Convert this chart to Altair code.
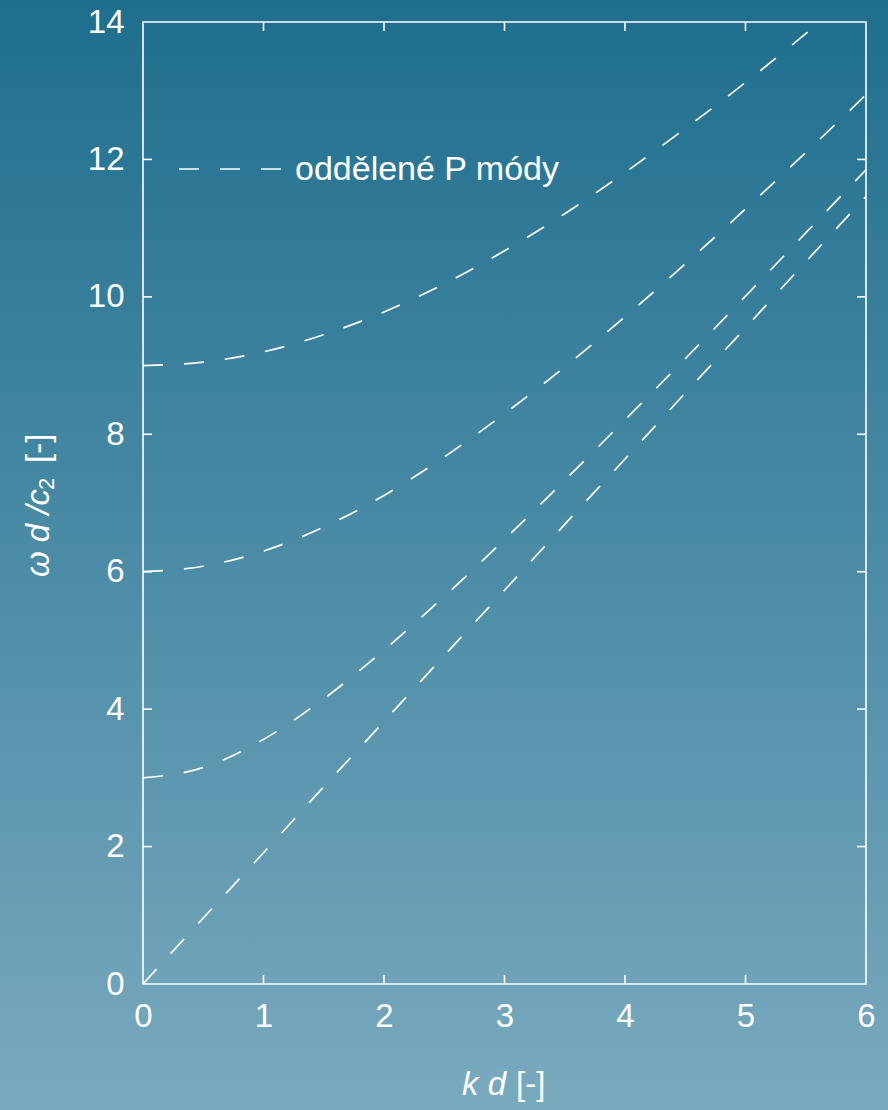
import altair as alt
import pandas as pd

# Dispersion branches: angular frequency (omega d / c2) against wavenumber (k d)
kd = [0.0, 0.5, 1.0, 1.5, 2.0, 2.5, 3.0, 3.5, 4.0, 4.5, 5.0, 5.5, 6.0]
mode_0 = [0.0, 0.96, 1.91, 2.87, 3.82, 4.78, 5.73, 6.69, 7.64, 8.60, 9.55, 10.51, 11.46]
mode_1 = [3.0, 3.15, 3.56, 4.15, 4.86, 5.64, 6.47, 7.33, 8.21, 9.10, 10.01, 10.93, 11.85]
mode_2 = [6.0, 6.08, 6.30, 6.65, 7.11, 7.67, 8.30, 8.98, 9.71, 10.48, 11.28, 12.10, 12.94]
mode_3 = [9.0, 9.05, 9.20, 9.45, 9.78, 10.19, 10.67, 11.21, 11.81, 12.45, 13.12, 13.83, 14.57]

x_ticks = [0, 1, 2, 3, 4, 5, 6]
y_ticks = [0, 2, 4, 6, 8, 10, 12, 14]

legend_label = "oddělené P módy"

W, H = 723, 962
PAD = {"left": 143, "top": 22, "right": 22, "bottom": 126}
FONT = "Liberation Sans"
WHITE = "#ffffff"
DASH = [20, 21]

rows = []
for name, vals in [("m0", mode_0), ("m1", mode_1), ("m2", mode_2), ("m3", mode_3)]:
    for k, w in zip(kd, vals):
        rows.append({"mode": name, "kd": k, "w": w})
curves = pd.DataFrame(rows)
one = pd.DataFrame({"a": [0]})
xt = pd.DataFrame({"kd": x_ticks[1:-1]})
yt = pd.DataFrame({"w": y_ticks[1:-1]})

xs = alt.Scale(domain=[0, 6], nice=False, zero=False)
ys = alt.Scale(domain=[0, 14], nice=False, zero=False)

# full-page vertical gradient behind everything
bg = alt.Chart(one).mark_rect(
    color=alt.Gradient(
        gradient="linear",
        stops=[alt.GradientStop(color="#1f6e8e", offset=0),
               alt.GradientStop(color="#4b8ba6", offset=0.5),
               alt.GradientStop(color="#7aaabe", offset=1)],
        x1=0, x2=0, y1=0, y2=1,
    )
).encode(
    x=alt.value(-PAD["left"]), x2=alt.value(W + PAD["right"]),
    y=alt.value(-PAD["top"]), y2=alt.value(H + PAD["bottom"]),
)

axis_style = dict(
    format="d", ticks=False, domain=False, grid=False, labelFlush=False,
    labelOverlap=False, labelFontSize=33, labelFont=FONT, labelColor=WHITE,
    title="", zindex=1,
)

lines = alt.Chart(curves).mark_line(
    color=WHITE, strokeWidth=1.7, strokeDash=DASH, interpolate="monotone", clip=True
).encode(
    x=alt.X("kd:Q", scale=xs, axis=alt.Axis(values=x_ticks, labelPadding=16, **axis_style)),
    y=alt.Y("w:Q", scale=ys, axis=alt.Axis(values=y_ticks, labelPadding=19, **axis_style)),
    detail="mode:N",
)

frame = alt.Chart(one).mark_rect(filled=False, stroke=WHITE, strokeWidth=1.6).encode(
    x=alt.value(0), x2=alt.value(W), y=alt.value(0), y2=alt.value(H)
)

tick_style = dict(color=WHITE, strokeWidth=1.6)
x_bottom = alt.Chart(xt).mark_rule(**tick_style).encode(
    x=alt.X("kd:Q", scale=xs), y=alt.value(H), y2=alt.value(H - 9))
x_top = alt.Chart(xt).mark_rule(**tick_style).encode(
    x=alt.X("kd:Q", scale=xs), y=alt.value(0), y2=alt.value(9))
y_left = alt.Chart(yt).mark_rule(**tick_style).encode(
    y=alt.Y("w:Q", scale=ys), x=alt.value(0), x2=alt.value(9))
y_right = alt.Chart(yt).mark_rule(**tick_style).encode(
    y=alt.Y("w:Q", scale=ys), x=alt.value(W), x2=alt.value(W - 9))

# legend sample and label
leg_line = alt.Chart(one).mark_rule(color=WHITE, strokeWidth=1.7, strokeDash=DASH).encode(
    x=alt.value(36), x2=alt.value(140), y=alt.value(147))
leg_text = alt.Chart(one).mark_text(
    text=legend_label, align="left", baseline="alphabetic", font=FONT,
    fontSize=34, color=WHITE
).encode(x=alt.value(152), y=alt.value(158))

# axis titles with italic symbols
txt = dict(font=FONT, fontSize=33, color=WHITE, baseline="alphabetic")
xt_sym = alt.Chart(one).mark_text(text="k d", align="right", fontStyle="italic", **txt).encode(
    x=alt.value(363), y=alt.value(1073))
xt_unit = alt.Chart(one).mark_text(text="[-]", align="left", **txt).encode(
    x=alt.value(373), y=alt.value(1073))

yt_sym = alt.Chart(one).mark_text(text="ω d /c", align="left", angle=270, fontStyle="italic", **txt).encode(
    x=alt.value(-94), y=alt.value(555))
yt_sub = alt.Chart(one).mark_text(text="2", align="left", angle=270, font=FONT, fontSize=22,
                                  color=WHITE, baseline="alphabetic").encode(
    x=alt.value(-89), y=alt.value(468))
yt_unit = alt.Chart(one).mark_text(text="[-]", align="left", angle=270, **txt).encode(
    x=alt.value(-94), y=alt.value(441))

chart = alt.layer(
    bg, lines, frame, x_bottom, x_top, y_left, y_right,
    leg_line, leg_text, xt_sym, xt_unit, yt_sym, yt_sub, yt_unit,
).properties(
    width=W, height=H, padding=PAD,
    autosize=alt.AutoSizeParams(type="none"),
).configure(background="#4b8ba6").configure_view(stroke=None)

chart.save("out.html", embed_options={"renderer": "svg", "actions": False})
